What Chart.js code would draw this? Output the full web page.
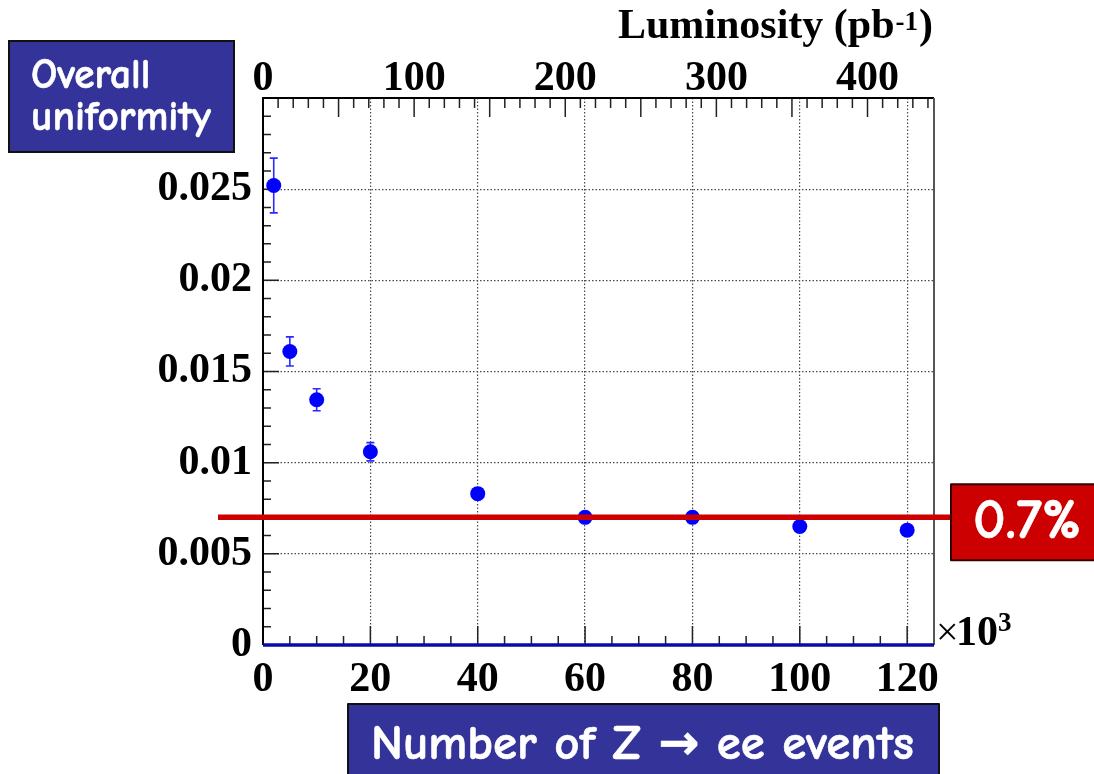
<!DOCTYPE html>
<html>
<head>
<meta charset="utf-8">
<script src="https://cdn.jsdelivr.net/npm/chart.js@4.4.1/dist/chart.umd.min.js"></script>
<style>
  html, body { margin: 0; padding: 0; background: #ffffff; }
  #wrap { width: 1094px; height: 774px; position: relative; }
</style>
</head>
<body>
<div id="wrap"><canvas id="chart"></canvas></div>
<script>
// Number of Z -> ee events (x 10^3) and the measured overall uniformity
const zEvents       = [2, 5, 10, 20, 40, 60, 80, 100, 120];
const uniformity    = [0.0252, 0.0161, 0.01345, 0.0106, 0.0083, 0.0070, 0.0070, 0.0065, 0.0063];
const uniformityErr = [0.0015, 0.0008, 0.0006, 0.0005, 0.0003, 0.0002, 0.0002, 0.0002, 0.0002];

// Axis ticks
const yTickValues    = [0, 0.005, 0.01, 0.015, 0.02, 0.025];
const yTickLabels    = ['0', '0.005', '0.01', '0.015', '0.02', '0.025'];
const xTickValues    = [0, 20, 40, 60, 80, 100, 120];
const xTickLabels    = ['0', '20', '40', '60', '80', '100', '120'];
const lumiTickValues = [0, 100, 200, 300, 400];
const lumiTickLabels = ['0', '100', '200', '300', '400'];

// Axis ranges (the luminosity axis spans the same width as 125k events)
const xMax = 125;
const yMax = 0.03;
const lumiMax = 444;

// Reference level
const targetLevel = 0.007;
const targetLabel = '0.7%';

const titleTopLeft = ['Overall', 'uniformity'];
const titleBottom = 'Number of Z \u2192 ee events';

const SERIF = '"Liberation Serif", "Times New Roman", serif';
const COMIC = '"Comic Sans MS", "Comic Neue", "DejaVu Sans", sans-serif';
const tickFont = { family: SERIF, weight: 'bold', size: 42 };

function fixedBox(w, h) {
  return function (s) {
    if (w !== null) s.width = w;
    if (h !== null) s.height = h;
    s.paddingLeft = 0; s.paddingRight = 0; s.paddingTop = 0; s.paddingBottom = 0;
  };
}

function fitFont(ctx, text, width, weight, family) {
  ctx.font = weight + ' 100px ' + family;
  const w = ctx.measureText(text).width;
  return 100 * width / w;
}

// draws text a little heavier by adding a thin outline in the same colour
function heavyText(ctx, text, x, y, weightPx) {
  ctx.lineWidth = weightPx;
  ctx.lineJoin = 'round';
  ctx.strokeStyle = ctx.fillStyle;
  ctx.strokeText(text, x, y);
  ctx.fillText(text, x, y);
}

const decor = {
  id: 'decor',
  beforeDatasetsDraw(chart) {
    const { ctx, chartArea: a, scales: { x, y, lumi } } = chart;
    ctx.save();
    // inward tick marks
    ctx.strokeStyle = '#222';
    ctx.lineWidth = 1.5;
    ctx.beginPath();
    for (let k = 1; k < 30; k++) {
      const py = y.getPixelForValue(k / 1000);
      const len = k % 5 === 0 ? 16 : 8;
      ctx.moveTo(a.left, py); ctx.lineTo(a.left + len, py);
    }
    for (let k = 5; k < xMax; k += 5) {
      const px = x.getPixelForValue(k);
      const len = k % 20 === 0 ? 19 : 9;
      ctx.moveTo(px, a.bottom); ctx.lineTo(px, a.bottom - len);
    }
    for (let k = 10; k < lumiMax; k += 10) {
      const px = lumi.getPixelForValue(k);
      const len = k % 50 === 0 ? 19 : 10;
      ctx.moveTo(px, a.top); ctx.lineTo(px, a.top + len);
    }
    ctx.stroke();

    // error bars
    ctx.strokeStyle = '#2a2aff';
    ctx.lineWidth = 1.6;
    ctx.beginPath();
    zEvents.forEach((ev, i) => {
      const px = x.getPixelForValue(ev);
      const y1 = y.getPixelForValue(uniformity[i] + uniformityErr[i]);
      const y2 = y.getPixelForValue(uniformity[i] - uniformityErr[i]);
      ctx.moveTo(px, y1); ctx.lineTo(px, y2);
      ctx.moveTo(px - 4, y1); ctx.lineTo(px + 4, y1);
      ctx.moveTo(px - 4, y2); ctx.lineTo(px + 4, y2);
    });
    ctx.stroke();
    ctx.restore();
  },
  afterDatasetsDraw(chart) {
    const { ctx, chartArea: a, scales: { y } } = chart;
    ctx.save();
    // frame
    ctx.lineWidth = 2;
    ctx.strokeStyle = '#000';
    ctx.beginPath();
    ctx.moveTo(a.left, a.bottom); ctx.lineTo(a.left, a.top); ctx.lineTo(a.right, a.top);
    ctx.stroke();
    ctx.strokeStyle = '#555';
    ctx.beginPath();
    ctx.moveTo(a.right, a.top); ctx.lineTo(a.right, a.bottom);
    ctx.stroke();
    ctx.strokeStyle = '#0a0aa8';
    ctx.lineWidth = 3.5;
    ctx.beginPath();
    ctx.moveTo(a.left, a.bottom); ctx.lineTo(a.right, a.bottom);
    ctx.stroke();

    // reference level line
    const ly = y.getPixelForValue(targetLevel);
    ctx.strokeStyle = '#cc0000';
    ctx.lineWidth = 5.5;
    ctx.beginPath();
    ctx.moveTo(a.left - 45, ly); ctx.lineTo(a.right + 17, ly);
    ctx.stroke();
    ctx.restore();
  },
  afterDraw(chart) {
    const { ctx, chartArea: a, scales: { y } } = chart;
    ctx.save();

    // top axis title with superscript
    ctx.fillStyle = '#000';
    ctx.textBaseline = 'alphabetic';
    ctx.textAlign = 'left';
    const mainT = 'Luminosity (pb', supT = '-1', endT = ')';
    ctx.font = 'bold 42px ' + SERIF;
    const w1 = ctx.measureText(mainT).width;
    const w3 = ctx.measureText(endT).width;
    ctx.font = 'bold 27px ' + SERIF;
    const w2 = ctx.measureText(supT).width;
    let tx = a.right - 1 - (w1 + w2 + w3 + 2);
    ctx.font = 'bold 42px ' + SERIF;
    ctx.fillText(mainT, tx, 38);
    ctx.font = 'bold 27px ' + SERIF;
    ctx.fillText(supT, tx + w1 + 1, 30);
    ctx.font = 'bold 42px ' + SERIF;
    ctx.fillText(endT, tx + w1 + w2 + 2, 38);

    // x10^3 multiplier
    ctx.font = '40px ' + SERIF;
    ctx.fillText('\u00d7', a.right + 2, a.bottom);
    ctx.font = 'bold 42px ' + SERIF;
    ctx.fillText('10', a.right + 22, a.bottom);
    ctx.font = 'bold 27px ' + SERIF;
    ctx.fillText('3', a.right + 64, a.bottom - 14);

    // labelled boxes
    function box(x0, y0, x1, y1, fill, edge) {
      ctx.fillStyle = fill;
      ctx.fillRect(x0, y0, x1 - x0, y1 - y0);
      ctx.strokeStyle = edge;
      ctx.lineWidth = 2;
      ctx.strokeRect(x0, y0, x1 - x0, y1 - y0);
    }
    box(9, 41, 234, 152, '#333399', '#111');
    const s1 = fitFont(ctx, titleTopLeft[1], 180, 'bold', COMIC);
    ctx.fillStyle = '#fff';
    ctx.font = 'bold ' + s1 + 'px ' + COMIC;
    heavyText(ctx, titleTopLeft[0], 31, 88, 0.6);
    heavyText(ctx, titleTopLeft[1], 31, 130, 0.6);

    box(348, 704, 939, 776, '#333399', '#111');
    const s2 = fitFont(ctx, titleBottom, 543, 'bold', COMIC);
    ctx.fillStyle = '#fff';
    ctx.font = 'bold ' + s2 + 'px ' + COMIC;
    heavyText(ctx, titleBottom, 371, 759, 0.6);

    const ly = y.getPixelForValue(targetLevel);
    box(951, ly - 33, 1096, ly + 43, '#cc0000', '#330000');
    const s3 = fitFont(ctx, targetLabel, 108, 'bold', COMIC);
    ctx.fillStyle = '#fff';
    ctx.font = 'bold ' + s3 + 'px ' + COMIC;
    heavyText(ctx, targetLabel, 973, ly + 21, 0.6);

    ctx.restore();
  }
};

const gridColor = (ctx) => (ctx.tick && ctx.tick.value === 0) ? 'rgba(0,0,0,0)' : '#4a4a4a';

new Chart(document.getElementById('chart'), {
  type: 'scatter',
  data: {
    datasets: [{
      data: zEvents.map((ev, i) => ({ x: ev, y: uniformity[i] })),
      pointRadius: 7.5,
      pointHoverRadius: 7.5,
      backgroundColor: '#0000ff',
      borderWidth: 0,
      showLine: false,
      xAxisID: 'x',
      yAxisID: 'y'
    }]
  },
  options: {
    responsive: true,
    maintainAspectRatio: false,
    animation: false,
    events: [],
    layout: { padding: { left: 0, top: 0, right: 160, bottom: 0 } },
    plugins: { legend: { display: false }, tooltip: { enabled: false }, title: { display: false } },
    scales: {
      x: {
        type: 'linear', position: 'bottom', min: 0, max: xMax,
        afterBuildTicks: (s) => { s.ticks = xTickValues.map(v => ({ value: v })); },
        afterFit: fixedBox(null, 129),
        ticks: { callback: (v, i) => xTickLabels[i], font: tickFont, color: '#000', padding: 10, maxRotation: 0, autoSkip: false },
        grid: { color: gridColor, lineWidth: 1.2, drawTicks: false, borderDash: [1.5, 2] },
        border: { display: false, dash: [1.5, 2] }
      },
      lumi: {
        type: 'linear', axis: 'x', position: 'top', min: 0, max: lumiMax,
        afterBuildTicks: (s) => { s.ticks = lumiTickValues.map(v => ({ value: v })); },
        afterFit: fixedBox(null, 98),
        ticks: { callback: (v, i) => lumiTickLabels[i], font: tickFont, color: '#000', padding: -6, maxRotation: 0, autoSkip: false },
        grid: { display: false, drawTicks: false },
        border: { display: false }
      },
      y: {
        type: 'linear', position: 'left', min: 0, max: yMax,
        afterBuildTicks: (s) => { s.ticks = yTickValues.map(v => ({ value: v })); },
        afterFit: fixedBox(263, null),
        ticks: { callback: (v, i) => yTickLabels[i], font: tickFont, color: '#000', padding: 11, autoSkip: false },
        grid: { color: gridColor, lineWidth: 1.2, drawTicks: false, borderDash: [1.5, 2] },
        border: { display: false, dash: [1.5, 2] }
      }
    }
  },
  plugins: [decor]
});
</script>
</body>
</html>
